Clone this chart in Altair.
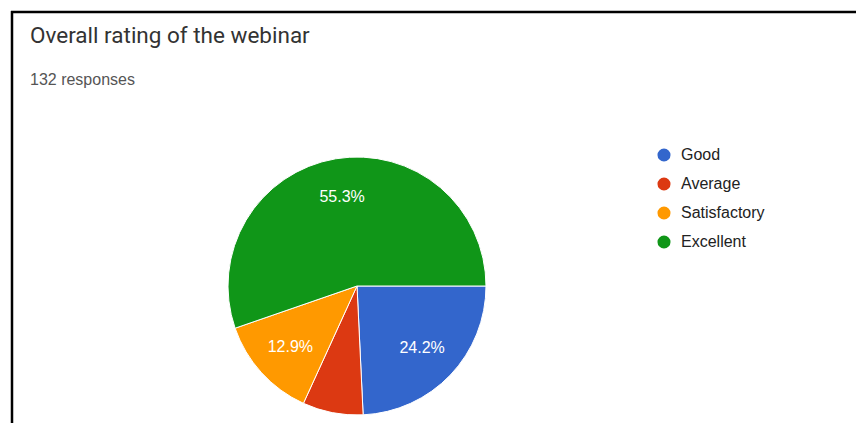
import altair as alt
import pandas as pd
import math

categories = ["Good", "Average", "Satisfactory", "Excellent"]
counts = [32, 10, 17, 73]
colors = ["#3366cc", "#dc3912", "#ff9900", "#109618"]
order = [0, 1, 2, 3]

df = pd.DataFrame({"rating": categories, "count": counts, "ord": order})

CX, CY = 349, 278
R = 129

base = alt.Chart(df).transform_joinaggregate(total="sum(count)").transform_calculate(
    label="datum.count / datum.total >= 0.1 ? format(datum.count / datum.total * 100, '.1f') + '%' : ''",
)

theta = alt.Theta("count:Q", stack=True,
                  scale=alt.Scale(range=[math.pi / 2, math.pi / 2 + 2 * math.pi]))

pie = base.mark_arc(radius=R, stroke="white", strokeWidth=1).encode(
    theta=theta,
    order=alt.Order("ord:Q"),
    color=alt.Color("rating:N", sort=categories,
                    scale=alt.Scale(domain=categories, range=colors),
                    legend=alt.Legend(title=None, orient="none", legendX=648, legendY=139,
                                      symbolType="circle", symbolSize=170,
                                      labelFontSize=16, labelFont="Liberation Sans",
                                      labelColor="#222222", rowPadding=13, labelOffset=9,
                                      symbolStrokeWidth=0)),
    x=alt.value(CX), y=alt.value(CY),
)

labels = base.mark_text(radius=90, fontSize=16, font="Liberation Sans", color="white").encode(
    theta=theta,
    order=alt.Order("ord:Q"),
    text="label:N",
    x=alt.value(CX), y=alt.value(CY),
)

title = alt.Chart(pd.DataFrame({"t": ["Overall rating of the webinar"]})).mark_text(
    align="left", baseline="alphabetic", fontSize=22.5, font="Roboto", color="#333333"
).encode(text="t:N", x=alt.value(22), y=alt.value(35))

sub = alt.Chart(pd.DataFrame({"t": ["132 responses"]})).mark_text(
    align="left", baseline="alphabetic", fontSize=16, font="Liberation Sans", color="#555555"
).encode(text="t:N", x=alt.value(22), y=alt.value(77))

top_line = alt.Chart(pd.DataFrame({"a": [0]})).mark_rule(color="black", strokeWidth=2.5).encode(
    x=alt.value(3), x2=alt.value(860), y=alt.value(4))
left_line = alt.Chart(pd.DataFrame({"a": [0]})).mark_rule(color="black", strokeWidth=2.5).encode(
    x=alt.value(4), y=alt.value(3), y2=alt.value(430))

chart = alt.layer(pie, labels, title, sub, top_line, left_line).properties(
    width=848, height=415, autosize="none", padding=0
).configure_view(stroke=None)

chart.save("out.html", embed_options={"renderer": "svg", "actions": False})
